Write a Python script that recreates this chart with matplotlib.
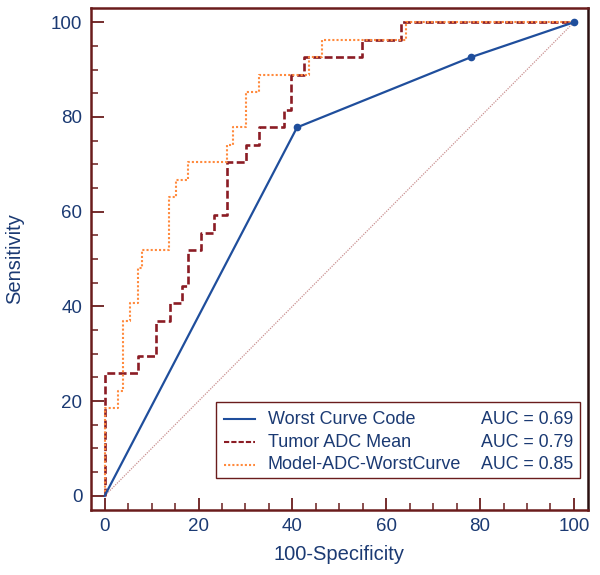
import matplotlib
matplotlib.use('Agg')
import matplotlib.pyplot as plt
from matplotlib.patches import Rectangle
from matplotlib.lines import Line2D

plt.rcParams['font.family'] = ['Liberation Sans', 'DejaVu Sans']

NAVY = '#1b3a73'
FRAME = '#6a1c1c'
BLUE = '#1f4e9c'
DARKRED = '#8b1c24'
ORANGE = '#ff8a3d'
DIAG = '#c99090'

# ROC corner points (100-Specificity, Sensitivity)
worst_fpr = [0, 41, 78, 100]
worst_tpr = [0, 77.8, 92.6, 100]

tumor_fpr = [0, 0, 7, 7, 11, 11, 14, 14, 16.5, 16.5, 17.7, 17.7, 20.6, 20.6,
             23.3, 23.3, 26, 26, 30.1, 30.1, 32.8, 32.8, 38.3, 38.3, 39.7, 39.7,
             42.4, 42.4, 54.8, 54.8, 63.1, 63.1, 100]
tumor_tpr = [0, 25.9, 25.9, 29.6, 29.6, 37.0, 37.0, 40.7, 40.7, 44.4, 44.4, 51.9, 51.9,
             55.6, 55.6, 59.3, 59.3, 70.4, 70.4, 74.1, 74.1, 77.8, 77.8, 81.5, 81.5,
             88.9, 88.9, 92.6, 92.6, 96.3, 96.3, 100, 100]

model_fpr = [0, 0, 2.8, 2.8, 3.9, 3.9, 5.5, 5.5, 7.0, 7.0, 8.0, 8.0, 13.8, 13.8,
             15.1, 15.1, 17.7, 17.7, 26.0, 26.0, 27.3, 27.3, 30.1, 30.1, 32.8, 32.8,
             43.6, 43.6, 46.4, 46.4, 64.2, 64.2, 100]
model_tpr = [0, 18.5, 18.5, 22.2, 22.2, 37.0, 37.0, 40.7, 40.7, 48.1, 48.1, 51.9, 51.9,
             63.0, 63.0, 66.7, 66.7, 70.4, 70.4, 74.1, 74.1, 77.8, 77.8, 85.2, 85.2,
             88.9, 88.9, 92.6, 92.6, 96.3, 96.3, 100, 100]

names = ['Worst Curve Code', 'Tumor ADC Mean', 'Model-ADC-WorstCurve']
aucs = [0.69, 0.79, 0.85]

fig = plt.figure(figsize=(6, 5.75), dpi=100)
ax = fig.add_axes([0.151, 0.113, 0.829, 0.873])
ax.set_xlim(-3, 103)
ax.set_ylim(-3, 103)

ax.plot([0, 100], [0, 100], color=DIAG, lw=0.9, ls=(0, (1, 1)), zorder=1)
ax.plot(worst_fpr, worst_tpr, color=BLUE, lw=1.6, zorder=3)
ax.plot(worst_fpr[1:], worst_tpr[1:], 'o', color=BLUE, ms=4.5, zorder=4)
ax.plot(tumor_fpr, tumor_tpr, color=DARKRED, lw=1.9, ls=(0, (3, 1.3)), zorder=2)
ax.plot(model_fpr, model_tpr, color=ORANGE, lw=1.5, ls=(0, (1, 1)), zorder=2.5)

ax.set_xticks(range(0, 101, 20))
ax.set_yticks(range(0, 101, 20))
ax.set_xticks(range(0, 101, 5), minor=True)
ax.set_yticks(range(0, 101, 5), minor=True)
ax.tick_params(which='major', direction='in', length=9, width=1.3, color=FRAME,
               labelsize=13.5, labelcolor=NAVY, pad=6)
ax.tick_params(which='minor', direction='in', length=5, width=1.1, color=FRAME)
for side in ['left', 'top', 'bottom']:
    ax.spines[side].set_color(FRAME)
    ax.spines[side].set_linewidth(1.8)
ax.spines['right'].set_color('#2a1010')
ax.spines['right'].set_linewidth(1.8)

ax.set_xlabel('100-Specificity', fontsize=14.5, color=NAVY, labelpad=7)
ax.set_ylabel('Sensitivity', fontsize=14.5, color=NAVY, labelpad=19)

# legend box drawn by hand so the AUC column lines up on the right
ax.add_patch(Rectangle((0.253, 0.064), 0.731, 0.151, transform=ax.transAxes,
                       facecolor='white', edgecolor=FRAME, lw=1.0, zorder=5))
styles = [dict(color=BLUE, lw=1.5, ls='-'),
          dict(color=DARKRED, lw=1.5, ls=(0, (2.5, 1))),
          dict(color=ORANGE, lw=1.5, ls=(0, (1, 1)))]
rows_y = [0.181, 0.135, 0.090]
for y, name, auc, st in zip(rows_y, names, aucs, styles):
    ax.add_line(Line2D([0.268, 0.331], [y, y], transform=ax.transAxes, zorder=6, **st))
    ax.text(0.356, y, name, transform=ax.transAxes, fontsize=13, color=NAVY,
            va='center', ha='left', zorder=6)
    ax.text(0.785, y, f'AUC = {auc:.2f}', transform=ax.transAxes, fontsize=12.8,
            color=NAVY, va='center', ha='left', zorder=6)

fig.savefig('out.png', dpi=100)
